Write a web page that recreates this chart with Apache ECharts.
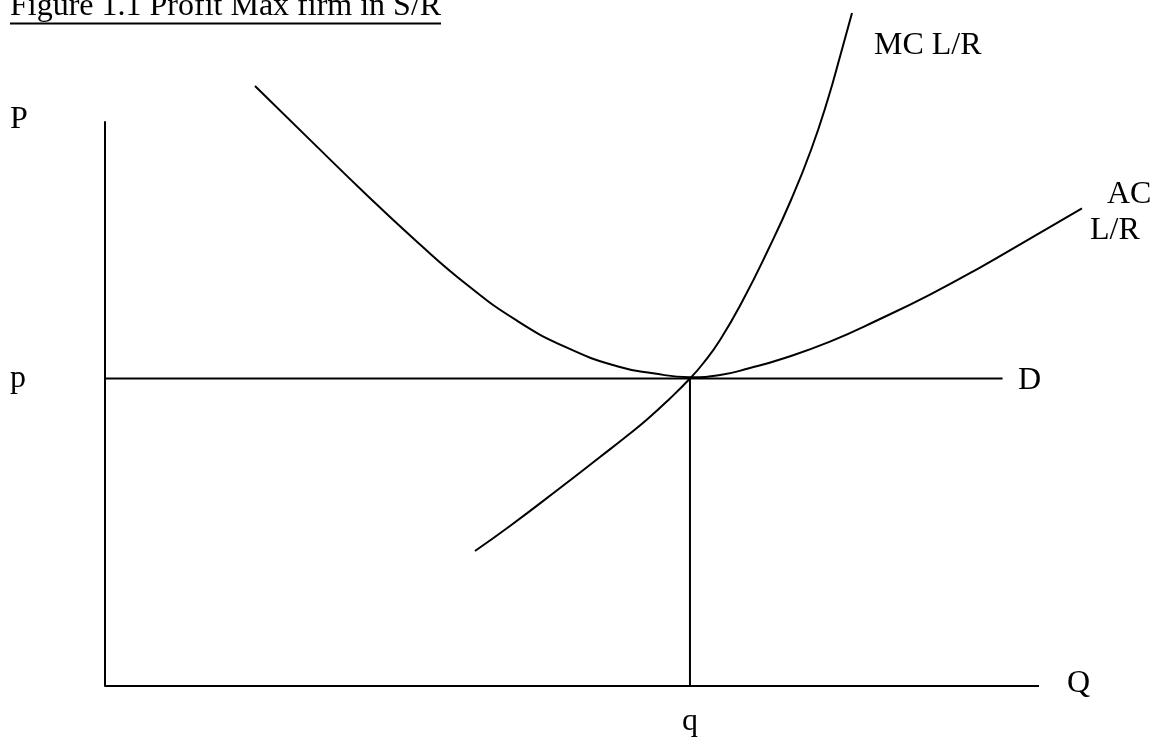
<!DOCTYPE html>
<html>
<head>
<meta charset="utf-8">
<title>Figure 1.1 Profit Max firm in S/R</title>
<script src="https://cdn.jsdelivr.net/npm/echarts@6/dist/echarts.min.js"></script>
<style>
  html, body { margin: 0; padding: 0; background: #ffffff; }
  #chart { width: 1159px; height: 740px; }
</style>
</head>
<body>
<div id="chart"></div>
<script>
// Long-run average cost curve (quantity, price)
const acQ = [16.06, 22.06, 28.05, 33.40, 38.76, 44.11, 49.46, 54.82, 58.67, 62.63, 65.85, 69.06, 72.27, 77.62, 82.98, 88.33, 93.68, 99.04, 104.60];
const acP = [106.38, 96.65, 87.02, 78.78, 71.15, 64.77, 59.98, 56.70, 55.46, 54.75, 55.14, 56.38, 57.89, 61.05, 65.07, 69.41, 74.20, 79.34, 84.70];

// Long-run marginal cost curve (quantity, price)
const mcQ = [39.61, 43.36, 48.72, 53.00, 55.67, 58.03, 60.49, 62.63, 64.03, 65.85, 68.31, 70.99, 73.45, 75.59, 77.37, 78.80, 79.98];
const mcP = [23.94, 28.37, 35.11, 40.60, 44.06, 47.25, 50.98, 54.52, 57.18, 61.35, 68.44, 77.30, 86.17, 95.04, 103.90, 112.23, 119.33];

// Market price, profit-maximising output, and where the Q axis and demand line stop
const pLevel = 54.5;
const qLevel = 62.63;
const quantityAxisEnd = 100;
const demandEnd = 96.1;

// Text
const titleText = 'Figure 1.1 Profit Max firm in S/R';
const priceAxisName = 'P';
const quantityAxisName = 'Q';
const priceLabel = 'p';
const quantityLabel = 'q';
const demandLabel = 'D';
const mcLabel = 'MC L/R';
const acLabel = ['AC', 'L/R'];

const FONT = '"Liberation Serif", "Times New Roman", serif';
const INK = '#000000';

const pairs = (xs, ys) => xs.map((x, i) => [x, ys[i]]);

const chart = echarts.init(document.getElementById('chart'), null, { renderer: 'canvas' });

const lineSeries = (name, data, smooth, width) => ({
  name,
  type: 'line',
  data,
  smooth,
  showSymbol: false,
  symbol: 'none',
  clip: false,
  silent: true,
  animation: false,
  lineStyle: { color: INK, width, cap: 'butt' }
});

const textEl = (text, x, y, align) => ({
  type: 'text',
  x, y,
  silent: true,
  style: {
    text,
    fill: INK,
    font: '32px ' + FONT,
    align: align || 'left',
    verticalAlign: 'middle'
  }
});

chart.setOption({
  backgroundColor: '#ffffff',
  animation: false,
  // plot area: 9.34 px per Q unit, 5.64 px per P unit
  grid: { left: 105, top: 122, width: 1027.4, height: 564, containLabel: false },
  xAxis: {
    type: 'value',
    min: 0,
    max: 110,
    splitLine: { show: false },
    axisTick: { show: false },
    axisLine: { show: false },
    axisLabel: {
      customValues: [qLevel],
      formatter: () => quantityLabel,
      color: INK,
      fontFamily: FONT,
      fontSize: 32,
      margin: 20
    }
  },
  yAxis: {
    type: 'value',
    min: 0,
    max: 100,
    splitLine: { show: false },
    axisTick: { show: false },
    axisLine: { show: true, onZero: false, lineStyle: { color: INK, width: 2 } },
    axisLabel: {
      customValues: [pLevel],
      formatter: () => priceLabel,
      color: INK,
      fontFamily: FONT,
      fontSize: 32,
      align: 'left',
      verticalAlign: 'middle',
      margin: 95
    }
  },
  series: [
    lineSeries('Q axis', [[0, 0], [quantityAxisEnd, 0]], false, 2),
    lineSeries('AC L/R', pairs(acQ, acP), 0.5, 2),
    lineSeries('MC L/R', pairs(mcQ, mcP), 0.5, 2),
    lineSeries('D', [[0, pLevel], [demandEnd, pLevel]], false, 2),
    lineSeries('q', [[qLevel, 0], [qLevel, pLevel]], false, 2)
  ],
  graphic: [
    textEl(titleText, 10, 7),
    { type: 'line', silent: true, shape: { x1: 10, y1: 23.5, x2: 441, y2: 23.5 }, style: { stroke: INK, lineWidth: 2 } },
    textEl(priceAxisName, 10, 120),
    textEl(quantityAxisName, 1067, 684),
    textEl(demandLabel, 1018, 381),
    textEl(mcLabel, 874, 46),
    textEl(acLabel[0], 1107, 195),
    textEl(acLabel[1], 1090, 231)
  ]
});
</script>
</body>
</html>
